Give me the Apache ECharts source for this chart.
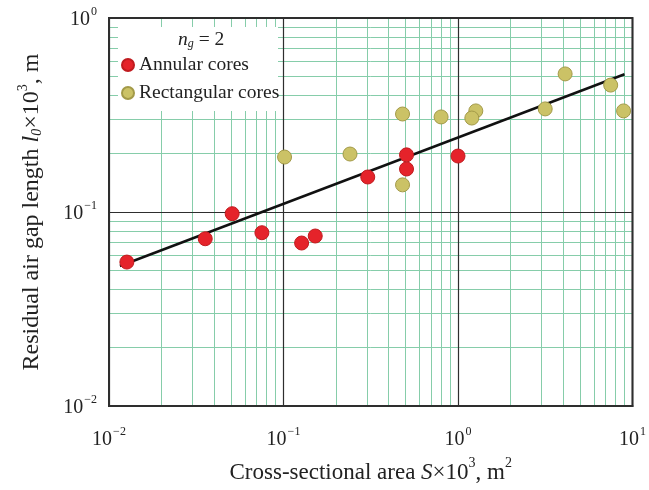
<!DOCTYPE html>
<html>
<head>
<meta charset="utf-8">
<script src="https://cdn.jsdelivr.net/npm/echarts@6/dist/echarts.min.js"></script>
<style>html,body{margin:0;padding:0;background:#fff;}#c{width:649px;height:490px;}</style>
</head>
<body>
<div id="c"></div>
<script>
// ---- data ----
const annularS = [0.01266, 0.0356, 0.0508, 0.0752, 0.127, 0.152, 0.304, 0.507, 0.507, 1.0];
const annularL = [0.0552, 0.0728, 0.098, 0.0782, 0.0692, 0.0752, 0.1515, 0.197, 0.1666, 0.1943];
const rectS = [0.1014, 0.2405, 0.481, 0.481, 0.80, 1.265, 1.20, 3.16, 4.11, 7.50, 8.89];
const rectL = [0.192, 0.199, 0.320, 0.138, 0.309, 0.332, 0.305, 0.340, 0.515, 0.451, 0.332];
const fitS = [0.01155, 9.0];
const fitL = [0.0527, 0.513];
const xDecades = [0.01, 0.1, 1];
const yDecades = [0.01, 0.1];
const minorMultipliers = [2, 3, 4, 5, 6, 7, 8, 9];
const xRange = [0.01, 10];
const yRange = [0.01, 1];

const SERIF = '"Liberation Serif", "Times New Roman", serif';
const GREEN = '#86cdaa';
const DARK = '#2e2e2e';

const zip = (a, b) => a.map((v, i) => [v, b[i]]);
const minorLines = [];
xDecades.forEach(d => minorMultipliers.forEach(m => minorLines.push({ xAxis: +(d * m).toPrecision(3) })));
yDecades.forEach(d => minorMultipliers.forEach(m => minorLines.push({ yAxis: +(d * m).toPrecision(3) })));

const expFmt = v => {
  const e = Math.round(Math.log10(v));
  return '{b|10}{s|' + (e < 0 ? '\u2212' + (-e) : e) + '}';
};
const tickRich = {
  b: { fontSize: 20, fontFamily: SERIF, color: '#222', lineHeight: 24, verticalAlign: 'bottom' },
  s: { fontSize: 12, fontFamily: SERIF, color: '#222', lineHeight: 24, verticalAlign: 'top', padding: [0, 0, 0, 1] }
};
const mkNameRich = (fs) => ({
  t: { fontSize: fs, fontFamily: SERIF, color: '#222', lineHeight: 28, verticalAlign: 'bottom' },
  i: { fontSize: fs, fontFamily: SERIF, fontStyle: 'italic', color: '#222', lineHeight: 28, verticalAlign: 'bottom' },
  sub: { fontSize: Math.round(fs * 0.6), fontFamily: SERIF, fontStyle: 'italic', color: '#222', lineHeight: 28, verticalAlign: 'bottom' },
  sup: { fontSize: Math.round(fs * 0.6), fontFamily: SERIF, color: '#222', lineHeight: 28, verticalAlign: 'top' }
});

const chart = echarts.init(document.getElementById('c'), null, { renderer: 'canvas' });
chart.setOption({
  animation: false,
  backgroundColor: '#fff',
  grid: { left: 109, right: 12, top: 18, bottom: 84, show: true, borderColor: DARK, borderWidth: 2, backgroundColor: 'transparent', z: 1 },
  xAxis: {
    type: 'log', logBase: 10, min: xRange[0], max: xRange[1], z: 1,
    axisLine: { show: true, lineStyle: { color: DARK, width: 2 } },
    axisTick: { show: false },
    splitLine: { show: true, lineStyle: { color: DARK, width: 1.2 } },
    axisLabel: { formatter: expFmt, rich: tickRich, margin: 20 },
    name: '{t|Cross-sectional area }{i|S}{t|\u00d710}{sup|3}{t|, m}{sup|2}',
    nameLocation: 'middle', nameGap: 50,
    nameTextStyle: { rich: mkNameRich(23) }
  },
  yAxis: {
    type: 'log', logBase: 10, min: yRange[0], max: yRange[1], z: 1,
    axisLine: { show: true, lineStyle: { color: DARK, width: 2 } },
    axisTick: { show: false },
    splitLine: { show: true, lineStyle: { color: DARK, width: 1.2 } },
    axisLabel: { formatter: expFmt, rich: tickRich, margin: 12 },
    name: '{t|Residual air gap length }{i|l}{sub|0}{t|\u00d710}{sup|3}{t|, m}',
    nameLocation: 'middle', nameGap: 65, nameRotate: 90,
    nameTextStyle: { rich: mkNameRich(24) }
  },
  legend: {
    orient: 'vertical', left: 121, top: 55, padding: 0, itemGap: 8,
    icon: 'circle', itemWidth: 12, itemHeight: 12, z: 6,
    textStyle: { fontFamily: SERIF, fontSize: 19.5, color: '#222', lineHeight: 20 },
    data: ['Annular cores', 'Rectangular cores']
  },
  graphic: [
    { type: 'rect', z: 2, silent: true, shape: { x: 118, y: 27, width: 160, height: 84 }, style: { fill: '#fff' } },
    { type: 'text', z: 7, left: 178, top: 30, style: {
        text: '{i|n}{sub|g}{t| = 2}',
        rich: {
          i: { fontSize: 19.5, fontFamily: SERIF, fontStyle: 'italic', fill: '#222', lineHeight: 24, verticalAlign: 'bottom' },
          sub: { fontSize: 12, fontFamily: SERIF, fontStyle: 'italic', fill: '#222', lineHeight: 20, verticalAlign: 'bottom' },
          t: { fontSize: 19.5, fontFamily: SERIF, fill: '#222', lineHeight: 24, verticalAlign: 'bottom' }
        }
      } }
  ],
  series: [
    {
      name: 'minor grid', type: 'line', data: [], silent: true,
      markLine: {
        silent: true, symbol: 'none', z: 0, animation: false,
        label: { show: false },
        lineStyle: { color: GREEN, width: 1, type: 'solid' },
        data: minorLines
      }
    },
    {
      name: 'fit', type: 'line', data: zip(fitS, fitL), showSymbol: false, symbol: 'none', z: 4,
      lineStyle: { color: '#111', width: 2.5 }
    },
    {
      name: 'Annular cores', type: 'scatter', data: zip(annularS, annularL), symbolSize: 14, z: 5,
      itemStyle: { color: '#e5232a', borderColor: '#c01b1f', borderWidth: 1, opacity: 1 }
    },
    {
      name: 'Rectangular cores', type: 'scatter', data: zip(rectS, rectL), symbolSize: 14, z: 5,
      itemStyle: { color: '#cbc266', borderColor: '#a39a48', borderWidth: 1, opacity: 1 }
    }
  ]
});
</script>
</body>
</html>
